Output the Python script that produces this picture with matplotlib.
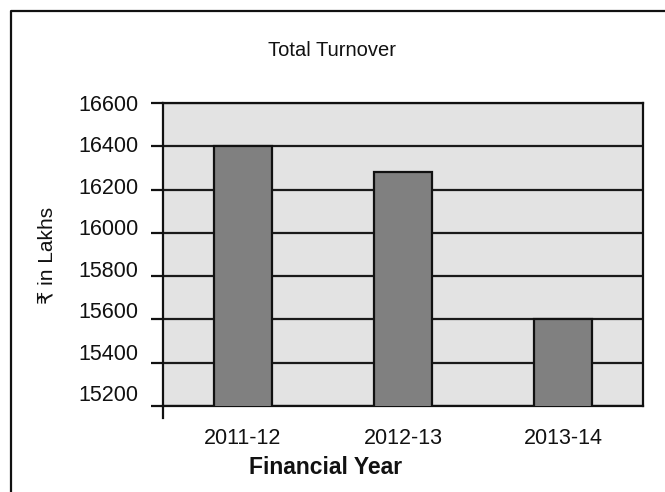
import matplotlib
matplotlib.use("Agg")
import matplotlib.pyplot as plt
from matplotlib.lines import Line2D
from matplotlib.transforms import ScaledTranslation

# Data
years = ["2011-12", "2012-13", "2013-14"]
turnover = [16400, 16280, 15600]
y_ticks = [15200, 15400, 15600, 15800, 16000, 16200, 16400, 16600]

plt.rcParams["font.family"] = ["Liberation Sans", "DejaVu Sans"]

W, H = 665, 492
fig = plt.figure(figsize=(W / 100, H / 100), dpi=100)

# plot area in pixel coordinates
left, right, top, bottom = 163, 643, 103, 406
ax = fig.add_axes([left / W, 1 - bottom / H, (right - left) / W, (bottom - top) / H])
ax.set_facecolor("#e3e3e3")

x = list(range(len(years)))
ax.bar(x, turnover, width=0.36, color="#808080", edgecolor="#111111",
       linewidth=1.6, zorder=3)

ax.set_xlim(-0.5, len(years) - 0.5)
ax.set_ylim(y_ticks[0], y_ticks[-1])
ax.set_yticks(y_ticks)
ax.set_yticklabels([str(v) for v in y_ticks])
ax.set_xticks(x)
ax.set_xticklabels(years)

ax.grid(axis="y", color="#1a1a1a", linewidth=1.6, zorder=1)
ax.set_axisbelow(True)
for s in ax.spines.values():
    s.set_color("#111111")
    s.set_linewidth(1.6)

ax.tick_params(axis="y", length=8.5, width=1.6, color="#111111",
               labelsize=15.5, pad=9, labelcolor="#111111")
ax.tick_params(axis="x", length=0, labelsize=15.5, pad=16, labelcolor="#111111")

# tick labels sit progressively higher than their ticks
for v, lab in zip(y_ticks, ax.get_yticklabels()):
    dy = (y_ticks[-1] - v) / 200 * 1.8
    lab.set_transform(lab.get_transform() + ScaledTranslation(0, dy / 100, fig.dpi_scale_trans))

# short extension of the value axis below the category axis
fig.add_artist(Line2D([left / W, left / W], [1 - bottom / H, 1 - 418 / H],
                      transform=fig.transFigure, color="#111111", linewidth=1.6))

# titles
fig.text(332 / W, 1 - 50 / H, "Total Turnover", ha="center", va="center",
         fontsize=14.5, color="#111111")
fig.text(326 / W, 1 - 467 / H, "Financial Year", ha="center", va="center",
         fontsize=16.5, fontweight="bold", color="#111111")
fig.text(47 / W, 1 - 255 / H, "₹ in Lakhs", ha="center", va="center",
         rotation=90, fontsize=15, color="#111111",
         family=["Liberation Sans", "DejaVu Sans"])

# outer frame (left and top edges)
fig.add_artist(Line2D([11 / W, 11 / W, 1.0], [0.0, 1 - 11 / H, 1 - 11 / H],
                      transform=fig.transFigure, color="#111111", linewidth=1.6))

fig.savefig("out.png", dpi=100)
